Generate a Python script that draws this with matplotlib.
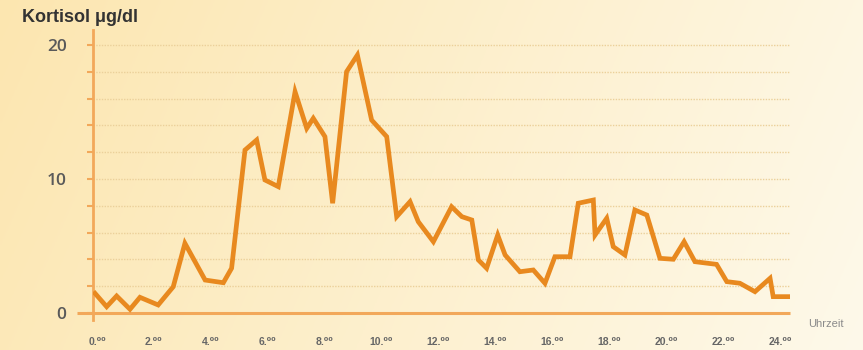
import matplotlib
matplotlib.use("Agg")
import matplotlib.pyplot as plt
import matplotlib.transforms as mtransforms
import numpy as np

stunden = [0.07, 0.48, 0.83, 1.30, 1.65, 2.29, 2.82, 3.23, 3.94, 4.58, 4.87,
           5.34, 5.75, 6.04, 6.51, 7.10, 7.51, 7.74, 8.15, 8.42, 8.91, 9.29,
           9.79, 10.32, 10.67, 11.14, 11.43, 11.96, 12.60, 12.96, 13.31, 13.54,
           13.83, 14.22, 14.48, 15.00, 15.47, 15.88, 16.23, 16.76, 17.05, 17.58,
           17.64, 18.05, 18.28, 18.69, 19.04, 19.46, 19.92, 20.39, 20.77, 21.15,
           21.91, 22.27, 22.73, 23.26, 23.79, 23.90, 24.49]
kortisol = [1.47, 0.47, 1.27, 0.28, 1.17, 0.60, 1.96, 5.20, 2.46, 2.26, 3.34,
            12.16, 12.91, 9.93, 9.43, 16.51, 13.78, 14.53, 13.16, 8.19, 18.01, 19.25,
            14.40, 13.16, 7.19, 8.31, 6.81, 5.32, 7.93, 7.19, 6.94, 3.96,
            3.34, 5.82, 4.33, 3.08, 3.21, 2.22, 4.20, 4.20, 8.19, 8.43,
            5.82, 7.07, 4.95, 4.33, 7.69, 7.31, 4.08, 4.01, 5.32, 3.83,
            3.63, 2.34, 2.22, 1.59, 2.59, 1.22, 1.22]

x_ticks = list(range(0, 25, 2))
x_labels = [f"{h}.⁰⁰" for h in x_ticks]
y_ticks = [0, 10, 20]

W, H = 863, 350
fig = plt.figure(figsize=(W / 100, H / 100), dpi=100)

# Hintergrund-Verlauf
bg = fig.add_axes([0, 0, 1, 1], zorder=-10)
gx = np.linspace(0, 1, 300)
gy = np.linspace(0, 1, 120)
GX, GY = np.meshgrid(gx, gy)
t = np.clip(GX * 0.85 + GY * 0.15, 0, 1)
left = np.array([252, 230, 176]) / 255
right = np.array([254, 249, 234]) / 255
img = left[None, None, :] * (1 - t[..., None]) + right[None, None, :] * t[..., None]
bg.imshow(img, aspect="auto", extent=[0, 1, 0, 1], origin="upper")
bg.axis("off")

x0, x1 = 93, 790
ytop, ybot = 30, 320
ax = fig.add_axes([x0 / W, (H - ybot) / H, (x1 - x0) / W, (ybot - ytop) / H])
ax.patch.set_alpha(0)

px_h = 28.46
ax.set_xlim(0, (x1 - x0) / px_h)
px_v = 13.4
ax.set_ylim(-(ybot - 313) / px_v, (313 - ytop) / px_v)

orange_axis = "#f2a85a"
line_col = "#e8891f"

for s in ["top", "right", "bottom"]:
    ax.spines[s].set_visible(False)
ax.spines["left"].set_color(orange_axis)
ax.spines["left"].set_linewidth(2)

# Gitterlinien
for v in range(2, 21, 2):
    ax.axhline(v, color="#ebd09a", lw=1.0, ls=(0, (1, 1)), zorder=1)

# Nulllinie
ax.plot([-0.56, (x1 - x0) / px_h], [0, 0], color=orange_axis, lw=2.2,
        clip_on=False, zorder=2, solid_capstyle="butt")

ax.plot(stunden, kortisol, color=line_col, lw=3.4, zorder=3,
        solid_joinstyle="miter")

ax.set_yticks(y_ticks)
ax.set_yticks(range(0, 21, 2), minor=True)
ax.set_yticklabels([str(v) for v in y_ticks], fontsize=12.5, fontweight="semibold",
                   family=["Open Sans", "DejaVu Sans"], color="#5a5a5a")
ax.tick_params(axis="y", which="both", direction="out", length=4,
               color=orange_axis, width=1.5, pad=15)

ax.set_xticks(x_ticks)
ax.set_xticklabels(x_labels, fontsize=7.5, fontweight="bold",
                   family=["Liberation Sans", "DejaVu Sans"], color="#666666")
ax.tick_params(axis="x", length=0, pad=12)
offset = mtransforms.ScaledTranslation(4 / 100, 0, fig.dpi_scale_trans)
for lab in ax.get_xticklabels():
    lab.set_transform(lab.get_transform() + offset)

fig.text(22 / W, 1 - 17 / H, "Kortisol μg/dl", fontsize=13, fontweight="bold",
         family=["Liberation Sans", "DejaVu Sans"], color="#333333", va="center")
fig.text(808 / W, 1 - 324 / H, "Uhrzeit", fontsize=8,
         family=["Liberation Sans", "DejaVu Sans"], color="#8a8a8a", va="center")

fig.savefig("out.png", dpi=100)
